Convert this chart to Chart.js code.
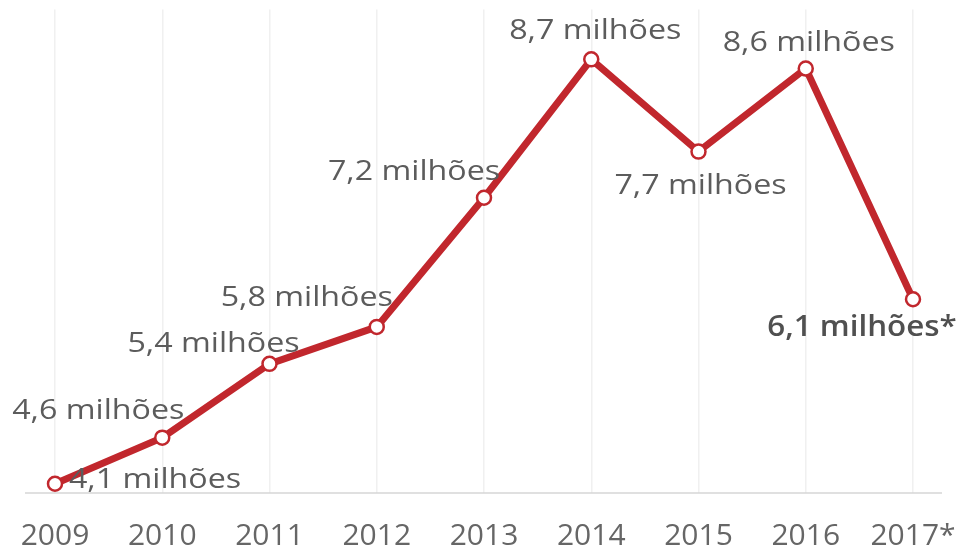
<!DOCTYPE html>
<html lang="pt">
<head>
  <meta charset="UTF-8">
  <title>Milhões por ano</title>
  <script src="https://cdn.jsdelivr.net/npm/chart.js"></script>
  <style>
    html, body { margin: 0; padding: 0; background: #fff; }
    #wrap { width: 960px; height: 548px; }
  </style>
</head>
<body>
  <div id="wrap"><canvas id="chart" width="960" height="548"></canvas></div>

  <script>
    const years = ['2009', '2010', '2011', '2012', '2013', '2014', '2015', '2016', '2017*'];
    const values = [4.1, 4.6, 5.4, 5.8, 7.2, 8.7, 7.7, 8.6, 6.1];
    const valueLabels = ['4,1 milhões', '4,6 milhões', '5,4 milhões', '5,8 milhões', '7,2 milhões',
                         '8,7 milhões', '7,7 milhões', '8,6 milhões', '6,1 milhões*'];

    // where each value label sits relative to its point (center x, text baseline)
    const labelOffsets = [[100, 4], [-64, -19], [-56, -12], [-70, -21], [-70, -18],
                          [4, -20], [2, 42], [3, -18], [-51, 37]];

    const red = '#c1272d';
    const textGray = '#5c5c5c';
    const stretch = 1.15; // the lettering in the source is drawn wide

    function wideText(ctx, text, x, y, stretchX) {
      ctx.save();
      ctx.translate(x, y);
      ctx.scale(stretchX, 1);
      ctx.fillText(text, 0, 0);
      ctx.restore();
    }

    const labelsPlugin = {
      id: 'labels',
      beforeDatasetsDraw(chart) {
        const ctx = chart.ctx;
        const x = chart.scales.x;
        const y = chart.scales.y;
        // baseline
        ctx.save();
        ctx.strokeStyle = '#d6d6d6';
        ctx.lineWidth = 1.5;
        ctx.beginPath();
        const by = y.getPixelForValue(y.min);
        ctx.moveTo(x.left - 30, by);
        ctx.lineTo(x.right + 29, by);
        ctx.stroke();
        // year labels
        ctx.fillStyle = '#666';
        ctx.font = '400 30px "Open Sans"';
        ctx.textAlign = 'center';
        ctx.textBaseline = 'alphabetic';
        years.forEach((yr, i) => {
          wideText(ctx, yr, x.getPixelForValue(i), by + 52, 1.0);
        });
        ctx.restore();
      },
      afterDatasetsDraw(chart) {
        const ctx = chart.ctx;
        const meta = chart.getDatasetMeta(0);
        ctx.save();
        ctx.textAlign = 'center';
        ctx.textBaseline = 'alphabetic';
        meta.data.forEach((pt, i) => {
          const last = i === values.length - 1;
          ctx.font = (last ? '600' : '400') + ' 28px "Open Sans"';
          ctx.fillStyle = last ? '#505050' : textGray;
          wideText(ctx, valueLabels[i], pt.x + labelOffsets[i][0], pt.y + labelOffsets[i][1], last ? 1.12 : stretch);
        });
        ctx.restore();
      }
    };

    function draw() {
      new Chart(document.getElementById('chart'), {
        type: 'line',
        data: {
          labels: years,
          datasets: [{
            data: values,
            borderColor: red,
            borderWidth: 7,
            tension: 0,
            pointRadius: 7,
            pointBackgroundColor: '#fff',
            pointBorderColor: red,
            pointBorderWidth: 2.5,
            clip: false
          }]
        },
        options: {
          responsive: false,
          animation: false,
          layout: { padding: { left: 55, right: 47, top: 0, bottom: 55 } },
          plugins: { legend: { display: false }, tooltip: { enabled: false } },
          scales: {
            x: {
              offset: false,
              ticks: { display: false },
              grid: { color: '#f0f0f0', lineWidth: 1.5, drawTicks: false },
              border: { display: false }
            },
            y: {
              display: false,
              min: 4.0,
              max: 9.24
            }
          }
        },
        plugins: [labelsPlugin]
      });
    }

    Promise.all([
      document.fonts.load('400 28px "Open Sans"'),
      document.fonts.load('600 28px "Open Sans"')
    ]).then(draw, draw);
  </script>
</body>
</html>
